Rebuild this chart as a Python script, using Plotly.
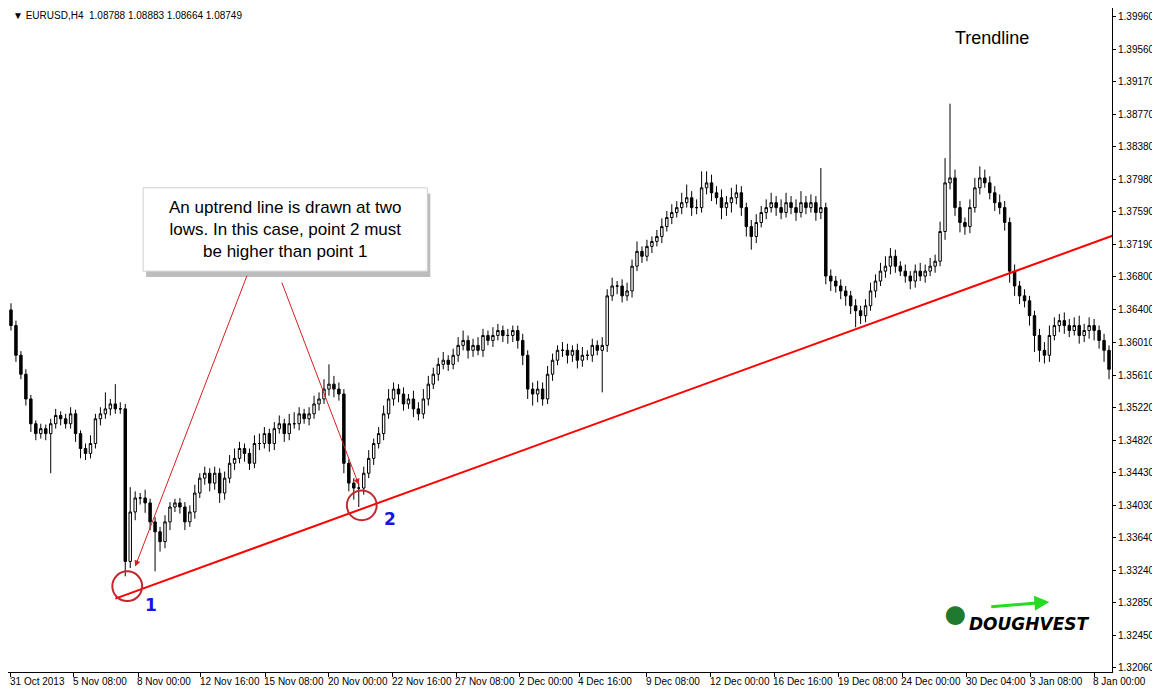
import plotly.graph_objects as go

# closing prices of the H4 bars left to right
closes = [
    1.3621, 1.3585, 1.3562, 1.3532, 1.3502, 1.3490, 1.3496, 1.3490, 1.3502, 1.3512,
    1.3508, 1.3502, 1.3514, 1.3490, 1.3472, 1.3466, 1.3478, 1.3508, 1.3514, 1.3520,
    1.3526, 1.3520, 1.3520, 1.3335, 1.3395, 1.3412, 1.3412, 1.3406, 1.3383, 1.3371,
    1.3359, 1.3383, 1.3401, 1.3406, 1.3401, 1.3383, 1.3395, 1.3418, 1.3436, 1.3442,
    1.3430, 1.3442, 1.3418, 1.3436, 1.3454, 1.3460, 1.3472, 1.3466, 1.3454, 1.3478,
    1.3478, 1.3490, 1.3478, 1.3496, 1.3502, 1.3490, 1.3502, 1.3502, 1.3514, 1.3508,
    1.3514, 1.3526, 1.3532, 1.3544, 1.3550, 1.3544, 1.3538, 1.3454, 1.3430, 1.3424,
    1.3424, 1.3442, 1.3460, 1.3478, 1.3490, 1.3514, 1.3532, 1.3544, 1.3538, 1.3526,
    1.3532, 1.3520, 1.3514, 1.3532, 1.3550, 1.3562, 1.3574, 1.3579, 1.3574, 1.3585,
    1.3597, 1.3603, 1.3591, 1.3597, 1.3591, 1.3609, 1.3603, 1.3609, 1.3615, 1.3609,
    1.3609, 1.3615, 1.3603, 1.3585, 1.3544, 1.3538, 1.3544, 1.3532, 1.3562, 1.3579,
    1.3591, 1.3591, 1.3585, 1.3591, 1.3579, 1.3585, 1.3585, 1.3597, 1.3591, 1.3597,
    1.3657, 1.3669, 1.3669, 1.3657, 1.3663, 1.3693, 1.3711, 1.3705, 1.3717, 1.3723,
    1.3729, 1.3741, 1.3752, 1.3758, 1.3764, 1.3770, 1.3776, 1.3764, 1.3764, 1.3788,
    1.3794, 1.3782, 1.3776, 1.3764, 1.3770, 1.3776, 1.3782, 1.3764, 1.3741, 1.3729,
    1.3746, 1.3758, 1.3764, 1.3770, 1.3764, 1.3758, 1.3770, 1.3764, 1.3758, 1.3770,
    1.3764, 1.3770, 1.3758, 1.3764, 1.3681, 1.3675, 1.3669, 1.3663, 1.3657, 1.3645,
    1.3639, 1.3633, 1.3645, 1.3663, 1.3675, 1.3687, 1.3693, 1.3705, 1.3693, 1.3687,
    1.3681, 1.3675, 1.3687, 1.3681, 1.3687, 1.3693, 1.3699, 1.3735, 1.3794, 1.3800,
    1.3764, 1.3746, 1.3741, 1.3764, 1.3788, 1.3800, 1.3794, 1.3782, 1.3770, 1.3764,
    1.3746, 1.3687, 1.3669, 1.3657, 1.3651, 1.3633, 1.3609, 1.3591, 1.3585, 1.3609,
    1.3621, 1.3627, 1.3621, 1.3615, 1.3621, 1.3609, 1.3615, 1.3621, 1.3615, 1.3603,
    1.3591, 1.3568,
]
first_open = 1.3640

# wick lengths in pips above / below each body
upper_pips = [
    8, 6, 5, 6, 5, 4, 6, 5, 6, 8, 5, 6, 8, 5, 4, 6, 10, 6, 8, 20,
    6, 24, 8, 6, 30, 8, 6, 10, 5, 6, 6, 8, 6, 5, 6, 6, 8, 10, 6, 8,
    6, 8, 6, 8, 10, 12, 8, 6, 6, 10, 12, 8, 6, 8, 10, 6, 12, 14, 8, 6,
    8, 10, 8, 12, 24, 10, 8, 6, 5, 6, 6, 8, 10, 6, 8, 10, 12, 8, 6, 8,
    6, 10, 8, 12, 10, 8, 8, 10, 6, 8, 10, 12, 6, 8, 10, 8, 6, 10, 8, 6,
    8, 6, 6, 8, 6, 8, 10, 8, 10, 8, 6, 10, 8, 6, 8, 10, 6, 8, 6, 10,
    8, 10, 6, 8, 10, 8, 12, 6, 8, 6, 8, 10, 8, 10, 8, 12, 16, 8, 10, 20,
    14, 10, 8, 10, 8, 12, 10, 8, 6, 8, 10, 8, 10, 12, 8, 10, 12, 8, 10, 14,
    8, 10, 8, 48, 6, 8, 6, 8, 6, 6, 8, 6, 8, 10, 8, 10, 12, 10, 8, 6,
    8, 6, 8, 10, 8, 10, 8, 12, 30, 90, 10, 8, 6, 10, 12, 14, 10, 8, 8, 10,
    8, 6, 8, 6, 8, 6, 6, 8, 10, 12, 10, 8, 10, 8, 10, 12, 8, 10, 8, 6,
    8, 6,
]
lower_pips = [
    6, 8, 6, 8, 10, 8, 6, 8, 48, 6, 8, 6, 6, 10, 12, 8, 6, 6, 8, 6,
    8, 6, 6, 18, 8, 10, 8, 12, 10, 48, 12, 8, 10, 6, 8, 10, 6, 8, 6, 8,
    10, 8, 12, 8, 6, 8, 6, 10, 8, 6, 8, 6, 10, 8, 6, 10, 8, 6, 8, 6,
    8, 6, 8, 6, 8, 10, 8, 12, 10, 14, 23, 8, 6, 8, 6, 8, 6, 8, 10, 8,
    6, 10, 8, 6, 8, 6, 8, 6, 8, 6, 8, 6, 10, 8, 6, 8, 6, 8, 6, 8,
    10, 8, 10, 12, 12, 14, 10, 8, 6, 8, 6, 8, 10, 8, 10, 8, 6, 8, 6, 51,
    8, 6, 10, 8, 6, 8, 6, 8, 6, 8, 6, 8, 6, 8, 6, 8, 6, 10, 8, 6,
    8, 10, 8, 14, 10, 12, 8, 10, 12, 16, 8, 6, 8, 6, 10, 8, 6, 8, 10, 6,
    8, 6, 10, 8, 10, 12, 8, 10, 12, 10, 20, 10, 8, 6, 8, 6, 8, 10, 8, 6,
    8, 10, 8, 6, 8, 6, 8, 6, 10, 8, 10, 12, 10, 8, 6, 8, 6, 8, 10, 8,
    10, 14, 12, 10, 8, 12, 20, 14, 10, 8, 6, 8, 10, 8, 6, 10, 8, 10, 12, 10,
    14, 12,
]

tick_idx = [0, 12.6, 25.6, 38.2, 51.2, 64, 76.8, 89.6, 102.4, 114.4, 128, 140.8,
            153.6, 166.6, 179.4, 192.4, 205.2, 218]
tick_labels = ["31 Oct 2013", "5 Nov 08:00", "8 Nov 00:00", "12 Nov 16:00", "15 Nov 08:00",
               "20 Nov 00:00", "22 Nov 16:00", "27 Nov 08:00", "2 Dec 00:00", "4 Dec 16:00",
               "9 Dec 08:00", "12 Dec 00:00", "16 Dec 16:00", "19 Dec 08:00", "24 Dec 00:00",
               "30 Dec 04:00", "3 Jan 08:00", "8 Jan 00:00"]
price_ticks = [1.39960, 1.39560, 1.39170, 1.38770, 1.38380, 1.37980, 1.37590, 1.37190,
               1.36800, 1.36400, 1.36010, 1.35610, 1.35220, 1.34820, 1.34430, 1.34030,
               1.33640, 1.33240, 1.32850, 1.32450, 1.32060]

# trendline anchors (bar index, price) and the two touch points
trend_x = [21, 222.2]
trend_y = [1.3290, 1.3731]
touch_x = [23.4, 70.6]
touch_y = [1.3305, 1.3403]

opens = [first_open] + closes[:-1]
highs = [max(o, c) + u / 10000 for o, c, u in zip(opens, closes, upper_pips)]
lows = [min(o, c) - d / 10000 for o, c, d in zip(opens, closes, lower_pips)]
idx = list(range(len(closes)))

fig = go.Figure(go.Candlestick(
    x=idx, open=opens, high=highs, low=lows, close=closes,
    increasing=dict(line=dict(color="black", width=1), fillcolor="white"),
    decreasing=dict(line=dict(color="black", width=1), fillcolor="black"),
    whiskerwidth=0, showlegend=False, hoverinfo="skip",
))

font = "Liberation Sans, Arial"
small = dict(family="Liberation Sans, Arial", size=10, color="black")
shapes = [
    dict(type="rect", x0=27.2, x1=84.4, y0=1.3680, y1=1.3781, fillcolor="#bdbdbd",
         line=dict(width=0), layer="above"),
    dict(type="rect", x0=26.6, x1=83.8, y0=1.3687, y1=1.3788, fillcolor="white",
         line=dict(color="#d0d0d0", width=1), layer="above"),
    dict(type="line", x0=trend_x[0], x1=trend_x[1], y0=trend_y[0], y1=trend_y[1],
         line=dict(color="#ff0000", width=2)),
]
for cx, cy in zip(touch_x, touch_y):
    shapes.append(dict(type="circle", x0=cx - 3, x1=cx + 3, y0=cy - 0.0018, y1=cy + 0.0018,
                       line=dict(color="#c0282d", width=2)))

ann = [
    dict(x=25, y=1.3329, ax=47.6, ay=1.3683, axref="x", ayref="y", showarrow=True,
         arrowhead=2, arrowsize=1.2, arrowwidth=1, arrowcolor="#d42020", text=""),
    dict(x=70, y=1.3428, ax=54.4, ay=1.3675, axref="x", ayref="y", showarrow=True,
         arrowhead=2, arrowsize=1.2, arrowwidth=1, arrowcolor="#d42020", text=""),
    dict(x=55.2, y=1.37375, showarrow=False,
         text="An uptrend line is drawn at two<br>lows. In this case, point 2 must<br>be higher than point 1",
         font=dict(family=font, size=17, color="black")),
    dict(x=28.2, y=1.3282, showarrow=False, text="<b>1</b>",
         font=dict(family="DejaVu Sans", size=17, color="#1414e6")),
    dict(x=76.2, y=1.3387, showarrow=False, text="<b>2</b>",
         font=dict(family="DejaVu Sans", size=17, color="#1414e6")),
    dict(x=197.4, y=1.3970, showarrow=False, text="Trendline",
         font=dict(family=font, size=18, color="black")),
    dict(x=0.003, y=1.0, xref="paper", yref="paper", xanchor="left", yanchor="top",
         showarrow=False, text="▼ EURUSD,H4  1.08788 1.08883 1.08664 1.08749", font=small),
    dict(x=205, y=1.3259, showarrow=False, text="<b><i>DOUGHVEST</i></b>",
         font=dict(family="DejaVu Sans", size=17, color="black")),
    dict(x=209, y=1.3286, ax=197, ay=1.3280, axref="x", ayref="y", showarrow=True,
         arrowhead=2, arrowwidth=3, arrowcolor="#22dd22", text=""),
    dict(x=190, y=1.3275, showarrow=False, text="●",
         font=dict(size=44, color="#1f7a2e")),
]
for t, lab in zip(tick_idx, tick_labels):
    ann.append(dict(x=t, y=0, xref="x", yref="paper", xanchor="left", yanchor="top",
                    showarrow=False, text=lab, yshift=-2, xshift=-3, font=small))

fig.update_layout(
    width=1160, height=684,
    margin=dict(l=0, r=56, t=0, b=20),
    paper_bgcolor="white", plot_bgcolor="white",
    shapes=shapes, annotations=ann,
    xaxis=dict(range=[-0.6, 221.6], rangeslider=dict(visible=False), showgrid=False,
               zeroline=False, tickvals=tick_idx, ticktext=[""] * len(tick_idx),
               ticks="outside", ticklen=4, tickcolor="black",
               showline=True, linecolor="black", mirror=True),
    yaxis=dict(range=[1.3201, 1.4006], side="right", showgrid=False, zeroline=False,
               tickvals=price_ticks, ticktext=[f"{p:.5f}" for p in price_ticks],
               ticks="outside", ticklen=3, tickcolor="black", tickfont=small,
               showline=True, linecolor="black", mirror=True),
)

fig.write_html("out.html")
